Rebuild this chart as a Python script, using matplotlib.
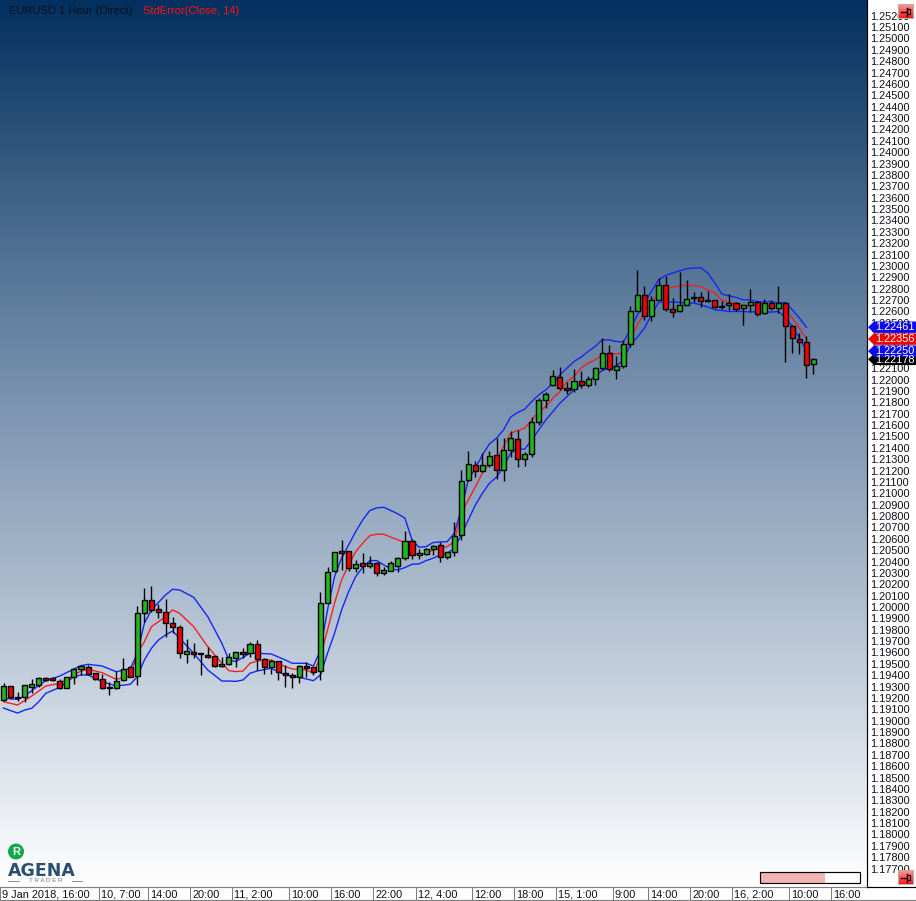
import numpy as np
import matplotlib
matplotlib.use("Agg")
import matplotlib.pyplot as plt
from matplotlib.colors import LinearSegmentedColormap
from matplotlib.patches import Polygon, Rectangle, Circle
from matplotlib.transforms import ScaledTranslation

plt.rcParams['font.family'] = ['Liberation Sans', 'DejaVu Sans']

# ---------------- data ----------------
opens = [1.19179,1.19302,1.19211,1.19211,1.19299,1.19317,1.19373,1.19373,1.19352,1.19285,1.19382,1.19452,1.19475,1.19417,1.19364,1.19297,1.19285,1.19355,1.19470,1.19390,
1.19945,1.20059,1.19980,1.19954,1.19857,1.19827,1.19584,1.19602,1.19593,1.19575,1.19566,1.19478,1.19496,1.19555,1.19602,1.19593,1.19672,1.19540,1.19470,1.19522,
1.19420,1.19399,1.19382,1.19478,1.19470,1.19434,1.20039,1.20314,1.20490,1.20490,1.20347,1.20385,1.20364,1.20391,1.20303,1.20320,1.20364,1.20435,1.20584,1.20455,
1.20470,1.20514,1.20543,1.20443,1.20482,1.20631,1.21115,1.21253,1.21194,1.21247,1.21335,1.21203,1.21379,1.21476,1.21300,1.21344,1.21626,1.21819,1.21951,1.22027,
1.21925,1.21913,1.21986,1.21951,1.22004,1.22101,1.22233,1.22083,1.22118,1.22312,1.22605,1.22743,1.22558,1.22699,1.22831,1.22620,1.22599,1.22655,1.22726,1.22726,
1.22699,1.22696,1.22646,1.22655,1.22673,1.22629,1.22655,1.22682,1.22585,1.22673,1.22626,1.22673,1.22470,1.22356,1.22330,1.22136]
highs = [1.19335,1.19302,1.19255,1.19311,1.19364,1.19387,1.19382,1.19382,1.19364,1.19382,1.19461,1.19493,1.19490,1.19423,1.19411,1.19343,1.19440,1.19549,1.19481,1.20009,
1.20165,1.20185,1.20024,1.20068,1.19910,1.19839,1.19716,1.19681,1.19593,1.19651,1.19572,1.19558,1.19593,1.19602,1.19637,1.19695,1.19710,1.19549,1.19534,1.19528,
1.19490,1.19423,1.19490,1.19520,1.19476,1.20132,1.20350,1.20487,1.20590,1.20493,1.20414,1.20473,1.20452,1.20399,1.20355,1.20408,1.20443,1.20666,1.20596,1.20508,
1.20520,1.20546,1.20575,1.20487,1.20751,1.21206,1.21373,1.21288,1.21353,1.21376,1.21485,1.21485,1.21552,1.21558,1.21367,1.21670,1.21837,1.21895,1.22086,1.22115,
1.21983,1.22092,1.22080,1.22036,1.22107,1.22365,1.22300,1.22209,1.22350,1.22643,1.22966,1.22825,1.22731,1.22893,1.22913,1.22717,1.22943,1.22878,1.22769,1.22772,
1.22775,1.22702,1.22687,1.22755,1.22682,1.22658,1.22796,1.22687,1.22708,1.22702,1.22825,1.22679,1.22476,1.22409,1.22385,1.22192]
lows = [1.19176,1.19188,1.19176,1.19167,1.19247,1.19299,1.19352,1.19352,1.19276,1.19285,1.19323,1.19399,1.19411,1.19358,1.19276,1.19229,1.19276,1.19352,1.19382,1.19317,
1.19871,1.19959,1.19901,1.19739,1.19769,1.19555,1.19511,1.19549,1.19405,1.19549,1.19475,1.19475,1.19490,1.19476,1.19549,1.19563,1.19446,1.19411,1.19411,1.19358,
1.19300,1.19291,1.19335,1.19388,1.19402,1.19358,1.20033,1.20308,1.20326,1.20320,1.20311,1.20303,1.20341,1.20273,1.20282,1.20317,1.20311,1.20414,1.20426,1.20420,
1.20455,1.20458,1.20399,1.20426,1.20452,1.20590,1.21112,1.21147,1.21191,1.21230,1.21124,1.21112,1.21323,1.21227,1.21244,1.21323,1.21602,1.21749,1.21948,1.21910,
1.21875,1.21895,1.21922,1.21931,1.21954,1.22086,1.22080,1.22007,1.22098,1.22286,1.22599,1.22520,1.22511,1.22696,1.22599,1.22547,1.22594,1.22652,1.22682,1.22635,
1.22682,1.22629,1.22620,1.22614,1.22599,1.22476,1.22591,1.22555,1.22579,1.22614,1.22585,1.22159,1.22233,1.22221,1.22010,1.22051]
closes = [1.19302,1.19211,1.19200,1.19311,1.19320,1.19373,1.19361,1.19361,1.19285,1.19382,1.19452,1.19484,1.19414,1.19364,1.19285,1.19285,1.19346,1.19458,1.19387,1.19945,
1.20059,1.19977,1.19954,1.19857,1.19827,1.19593,1.19610,1.19590,1.19584,1.19563,1.19478,1.19496,1.19558,1.19602,1.19590,1.19672,1.19540,1.19470,1.19522,1.19426,
1.19399,1.19382,1.19478,1.19467,1.19432,1.20033,1.20311,1.20482,1.20479,1.20347,1.20376,1.20364,1.20391,1.20303,1.20323,1.20385,1.20429,1.20584,1.20455,1.20473,
1.20514,1.20534,1.20443,1.20482,1.20622,1.21106,1.21256,1.21194,1.21247,1.21332,1.21203,1.21379,1.21485,1.21300,1.21344,1.21626,1.21819,1.21872,1.22030,1.21925,
1.21907,1.21986,1.21951,1.22004,1.22101,1.22233,1.22092,1.22118,1.22312,1.22605,1.22743,1.22561,1.22699,1.22831,1.22620,1.22594,1.22652,1.22708,1.22714,1.22690,
1.22687,1.22638,1.22635,1.22673,1.22620,1.22655,1.22682,1.22576,1.22673,1.22626,1.22673,1.22470,1.22365,1.22330,1.22124,1.22178]

upper_idx = [0,2,3,4,6,8,10,11,12,14,16,18,19,20,21,23,24,25,27,29,31,32,33,35,36,38,40,41,43,44,45,46,47,48,49,50,51,52,53,54,55,56,57,58,59,60,61,62,63,64,65,66,67,68,69,70,71,72,73,74,75,76,77,78,79,80,81,82,83,84,85,86,87,88,89,90,91,92,93,94,95,96,97,98,99,100,101,102,103,104,105,106,107,108,109,110,111,112,113,114]
upper = [1.19197,1.19188,1.19217,1.19264,1.19352,1.19393,1.19455,1.19484,1.19496,1.19481,1.19431,1.19458,1.19593,1.19857,1.19974,1.20106,1.20156,1.20150,1.20085,1.19915,1.19681,1.19534,
1.19520,1.19593,1.19593,1.19587,1.19534,1.19505,1.19505,1.19481,1.19622,1.19974,1.20267,1.20429,1.20546,1.20663,1.20766,1.20848,1.20872,1.20877,1.20848,1.20819,1.20781,1.20590,1.20526,1.20531,1.20567,1.20572,1.20575,1.20649,
1.20860,1.21118,1.21221,1.21338,1.21435,1.21485,1.21558,1.21670,1.21711,1.21740,1.21807,1.21866,1.21910,1.21969,1.22042,1.22101,1.22159,1.22197,1.22247,1.22291,1.22350,1.22350,1.22335,1.22330,
1.22438,1.22570,1.22673,1.22775,1.22878,1.22916,1.22937,1.22957,1.22975,1.22981,1.22984,1.22937,1.22849,1.22752,1.22737,1.22723,1.22702,1.22702,1.22687,1.22682,1.22687,1.22673,1.22679,1.22614,1.22541,1.22461]

middle_idx = [0,2,4,6,8,10,11,12,14,16,18,19,20,21,23,24,25,27,29,31,32,33,34,35,36,38,40,41,43,44,45,46,47,48,49,50,51,52,53,54,55,56,57,58,59,60,61,62,63,64,65,66,67,68,69,70,71,72,73,74,75,76,77,78,79,80,81,82,83,84,85,86,87,88,89,90,91,92,93,94,95,96,97,98,99,100,101,102,103,104,105,106,107,108,109,110,111,112,113,114]
middle = [1.19167,1.19138,1.19217,1.19305,1.19329,1.19402,1.19437,1.19452,1.19423,1.19364,1.19393,1.19593,1.19695,1.19827,1.19915,1.19974,1.19945,1.19827,1.19651,1.19505,1.19440,
1.19432,1.19437,1.19505,1.19525,1.19534,1.19476,1.19455,1.19446,1.19417,1.19563,1.19798,1.20033,1.20238,1.20370,1.20487,1.20561,1.20628,1.20640,1.20640,1.20614,1.20590,1.20567,1.20487,1.20458,1.20473,1.20502,1.20517,1.20531,1.20575,
1.20825,1.20942,1.21059,1.21177,1.21265,1.21294,1.21411,1.21529,1.21552,1.21573,1.21646,1.21719,1.21763,1.21837,1.21895,1.21983,1.22027,1.22101,1.22145,1.22174,1.22218,1.22233,1.22227,1.22233,
1.22365,1.22482,1.22585,1.22673,1.22761,1.22796,1.22813,1.22825,1.22828,1.22828,1.22819,1.22790,1.22761,1.22696,1.22679,1.22673,1.22652,1.22649,1.22652,1.22652,1.22643,1.22643,1.22614,1.22541,1.22453,1.22356]

lower_idx = [0,2,3,4,5,6,8,10,11,12,14,16,18,19,20,21,22,23,24,25,27,29,31,32,33,34,35,36,38,40,42,44,45,46,47,48,49,50,51,52,53,54,55,56,57,58,59,60,61,62,63,64,65,66,67,68,69,70,71,72,73,74,75,76,77,78,79,80,81,82,83,84,85,86,87,88,89,90,91,92,93,94,95,96,97,98,99,100,101,102,103,104,105,106,107,108,109,110,111,112,113,114]
lower = [1.19111,1.19067,1.19094,1.19109,1.19167,1.19241,1.19294,1.19387,1.19402,1.19402,1.19343,1.19305,1.19320,1.19387,1.19534,1.19637,1.19710,1.19754,1.19789,1.19725,1.19593,1.19446,1.19349,1.19349,
1.19346,1.19358,1.19417,1.19437,1.19461,1.19402,1.19382,1.19352,1.19402,1.19593,1.19769,1.19974,1.20135,1.20267,1.20350,1.20408,1.20408,1.20370,1.20335,1.20326,1.20347,1.20376,1.20379,1.20408,1.20429,1.20458,1.20473,1.20517,
1.20634,1.20766,1.20898,1.21001,1.21089,1.21142,1.21235,1.21353,1.21388,1.21388,1.21470,1.21558,1.21646,1.21719,1.21793,1.21851,1.21910,1.21954,1.21983,1.22033,1.22080,1.22101,1.22121,1.22174,
1.22306,1.22374,1.22453,1.22570,1.22679,1.22682,1.22682,1.22679,1.22673,1.22673,1.22658,1.22638,1.22614,1.22608,1.22599,1.22599,1.22599,1.22596,1.22596,1.22594,1.22594,1.22599,1.22550,1.22467,1.22365,1.22250]

date_tick_idx = [0,14,21,27,33,41,47,53,59,67,73,79,87,92,98,104,112,118]
date_labels = ['9 Jan 2018, 16:00','10, 7:00','14:00','20:00','11, 2:00','10:00','16:00','22:00','12, 4:00','12:00','18:00','15, 1:00','9:00','14:00','20:00','16, 2:00','10:00','16:00']
price_ticks = [round(1.177 + 0.001*i, 3) for i in range(76)]
last_values = [1.22178, 1.22250, 1.22356, 1.22461]
last_colors = ['#000000', '#0a0af0', '#f00000', '#0a0af0']

# ---------------- layout ----------------
W, H = 916, 901
PLOT_R, PLOT_B = 867, 887
fig = plt.figure(figsize=(W/100, H/100), dpi=100, facecolor='white')
ax = fig.add_axes([0, 1-PLOT_B/H, PLOT_R/W, PLOT_B/H])
ax.set_xlim(-0.468, 122.6)
ax.set_ylim(1.2 - (PLOT_B-607)*8.795e-5, 1.2 + 607*8.795e-5)

cmap = LinearSegmentedColormap.from_list('bg', ['#03305f', '#5e7c9c', '#acbccf', '#ffffff'])
ax.imshow(np.linspace(0, 1, 512).reshape(-1, 1), cmap=cmap, aspect='auto', zorder=0,
          extent=[*ax.get_xlim(), ax.get_ylim()[0], ax.get_ylim()[1]], origin='upper')

# ---------------- series ----------------
idx = np.arange(len(opens))
o, h, l, c = map(np.array, (opens, highs, lows, closes))
ax.plot(upper_idx, upper, color='#1426f4', lw=1.0, zorder=2)
ax.plot(lower_idx, lower, color='#1426f4', lw=1.0, zorder=2)
ax.plot(middle_idx, middle, color='#f42020', lw=1.0, zorder=2)
ax.vlines(idx, l, h, color='black', lw=1.0, zorder=3)
up = c >= o
ax.bar(idx, np.abs(c-o), bottom=np.minimum(o, c), width=0.72,
       color=np.where(up, '#22b522', '#f00000'), edgecolor='black', lw=1.0, zorder=4)

# ---------------- axes ----------------
ax.yaxis.tick_right()
ax.set_yticks(price_ticks)
ax.set_yticklabels([f'{p:.5f}' for p in price_ticks], fontsize=7.9, color='#101018')
ax.tick_params(axis='y', length=0, pad=2.6)
ax.set_xticks(np.array(date_tick_idx) - 0.5)
ax.set_xticklabels(date_labels, fontsize=7.9, color='#101018', ha='left', va='baseline')
ax.tick_params(axis='x', length=13.5/1.39, width=0.75, color='#808080', pad=-1.8)
shift = ScaledTranslation(2/100, 0, fig.dpi_scale_trans)
for lab in ax.get_xticklabels():
    lab.set_transform(lab.get_transform() + shift)
for s in ('top', 'left'):
    ax.spines[s].set_visible(False)
ax.spines['right'].set_color('black')
ax.spines['right'].set_linewidth(0.85)
ax.spines['bottom'].set_color('#808080')
ax.spines['bottom'].set_linewidth(0.85)

# overlay in pixel coordinates for the chart furniture
ov = fig.add_axes([0, 0, 1, 1], zorder=5)
ov.set_xlim(0, W)
ov.set_ylim(H, 0)
ov.axis('off')
ov.patch.set_alpha(0)

ov.text(9, 10.5, 'EURUSD 1 Hour (Direct)', fontsize=8, color='#08101c', va='center', ha='left')
ov.text(143, 10.5, 'StdError(Close, 14)', fontsize=8, color='#ff1010', va='center', ha='left')

# last value tags
ov.plot([PLOT_R, W], [PLOT_B, PLOT_B], color='black', lw=0.85)
ov.plot([0, W], [900.3, 900.3], color='#808080', lw=0.85)
for val, col in zip(last_values, last_colors):
    yp = 607 - (val - 1.2)/8.795e-5
    ov.add_patch(Polygon([(868, yp), (874, yp-5.7), (W, yp-5.7), (W, yp+5.7), (874, yp+5.7)],
                         closed=True, fc=col, ec='none'))
    ov.text(875.5, yp+0.3, f'{val:.5f}', color='white', fontsize=7.9, va='center', ha='left')

# corner buttons
grad = LinearSegmentedColormap.from_list('btn', ['#ff9a9a', '#ff1a1a'])
for x0, y0 in ((898, 4), (898, 870)):
    ov.imshow(np.linspace(0, 1, 32).reshape(-1, 1), cmap=grad, aspect='auto',
              extent=[x0, x0+15, y0+14, y0], zorder=2)
    ov.add_patch(Rectangle((x0, y0), 15, 14, fc='none', ec='#b0b0b0', lw=0.7, zorder=3))
    ov.plot([x0+3, x0+9], [y0+7.5, y0+7.5], color='black', lw=1.0, zorder=4)
    ov.plot([x0+9, x0+9], [y0+3.5, y0+11.5], color='black', lw=1.0, zorder=4)
    ov.plot([x0+9, x0+12], [y0+4.5, y0+4.5], color='black', lw=0.8, zorder=4)
    ov.plot([x0+12, x0+12], [y0+4.5, y0+9.5], color='black', lw=0.8, zorder=4)
    ov.plot([x0+9, x0+12], [y0+9.5, y0+9.5], color='black', lw=0.8, zorder=4)
ov.set_xlim(0, W)
ov.set_ylim(H, 0)

# progress bar
ov.add_patch(Rectangle((760, 872), 65, 11, fc='#f4b4b4', ec='none'))
ov.add_patch(Rectangle((760, 872), 100, 11, fc='none', ec='black', lw=0.85))

# logo
ov.add_patch(Circle((16, 851.5), 8, fc='#12a84a', ec='none'))
ov.text(16, 851.7, 'R', color='white', fontsize=8, fontweight='bold', ha='center', va='center')
ov.text(8, 870.6, 'AGENA', family='DejaVu Sans', color='#2b4d70', fontsize=12.5, fontweight='bold',
        ha='left', va='center')
ov.text(45.5, 881, 'T R A D E R', color='#6d7c8a', fontsize=4.5, ha='center', va='center')
ov.plot([8, 19], [880.5, 880.5], color='#8493a2', lw=0.7)
ov.plot([72, 82], [880.5, 880.5], color='#8493a2', lw=0.7)

fig.savefig('out.png', dpi=100, facecolor='white')
